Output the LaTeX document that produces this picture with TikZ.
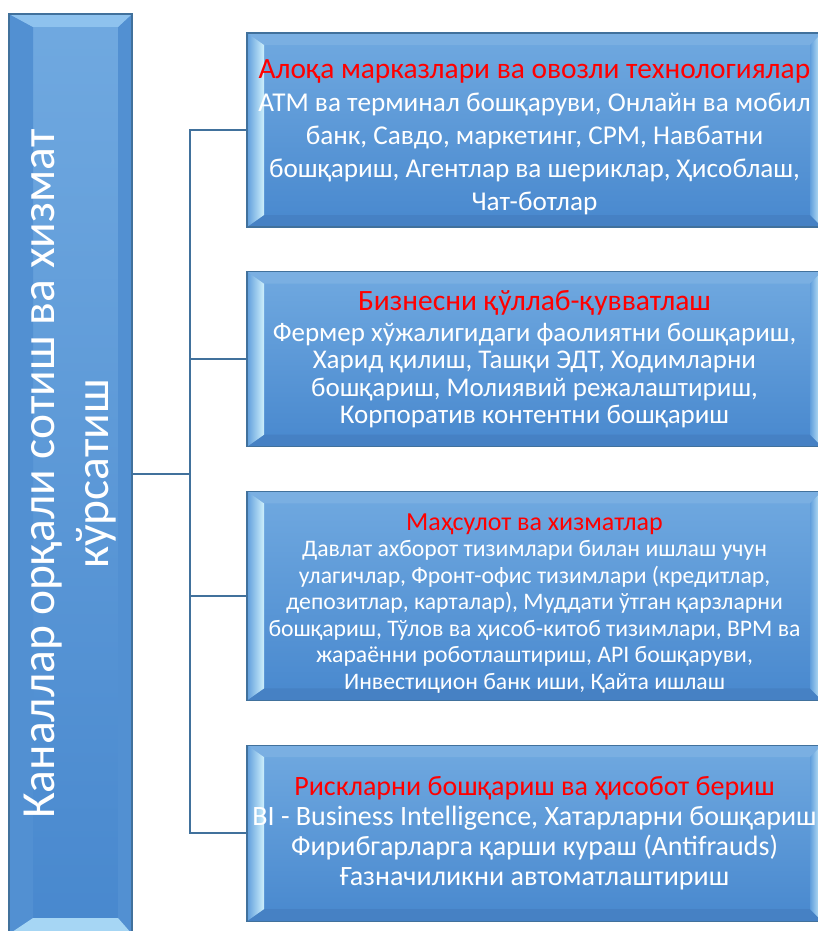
\documentclass[tikz,border=0pt]{standalone}
\usepackage{graphicx}
\usepackage{fontspec}
\setmainfont{Carlito}
\usetikzlibrary{positioning}

\definecolor{boxtop}{RGB}{112,169,224}
\definecolor{boxbot}{RGB}{72,136,206}
\definecolor{edgeblue}{RGB}{65,113,156}
\definecolor{bevlight}{RGB}{206,240,252}
\definecolor{bevtop}{RGB}{122,175,226}
\definecolor{bevbot}{RGB}{70,129,196}
\definecolor{bevside}{RGB}{96,158,220}
\definecolor{sidetop}{RGB}{142,194,238}
\definecolor{sidebot}{RGB}{166,214,244}
\definecolor{sidedark}{RGB}{82,144,210}

\begin{document}
\begin{tikzpicture}[x=1pt,y=-1pt,node distance=43.5pt,
  link/.style={draw=edgeblue,line width=2.2pt},
  side node/.style={rectangle,draw=edgeblue,line width=1.2pt,
    top color=boxtop,bottom color=boxbot,inner sep=0pt,text=white,
    minimum width=123pt,minimum height=920pt,
    font=\fontsize{47.5}{54}\selectfont,
    path picture={
      \coordinate (nw) at (path picture bounding box.north west);
      \coordinate (ne) at (path picture bounding box.north east);
      \coordinate (sw) at (path picture bounding box.south west);
      \coordinate (se) at (path picture bounding box.south east);
      \fill[sidedark] (nw) -- ([shift={(24pt,-13pt)}]nw) -- ([shift={(24pt,16pt)}]sw) -- (sw) -- cycle;
      \fill[sidedark] (ne) -- ([shift={(-14pt,-13pt)}]ne) -- ([shift={(-14pt,16pt)}]se) -- (se) -- cycle;
      \fill[sidetop] (nw) -- (ne) -- ([shift={(-14pt,-13pt)}]ne) -- ([shift={(24pt,-13pt)}]nw) -- cycle;
      \fill[sidebot] (sw) -- (se) -- ([shift={(-14pt,16pt)}]se) -- ([shift={(24pt,16pt)}]sw) -- cycle;
    }},
  group node/.style={rectangle,draw=edgeblue,line width=1.2pt,
    top color=boxtop,bottom color=boxbot,inner sep=0pt,text=white,
    minimum width=575pt,align=center,
    path picture={
      \coordinate (nw) at (path picture bounding box.north west);
      \coordinate (ne) at (path picture bounding box.north east);
      \coordinate (sw) at (path picture bounding box.south west);
      \coordinate (se) at (path picture bounding box.south east);
      \fill[bevtop] (nw) -- (ne) -- ([shift={(-12pt,-12pt)}]ne) -- ([shift={(17pt,-12pt)}]nw) -- cycle;
      \fill[bevbot] (sw) -- (se) -- ([shift={(-12pt,12pt)}]se) -- ([shift={(17pt,12pt)}]sw) -- cycle;
      \shade[left color=bevside,right color=bevlight] (nw) -- ([shift={(17pt,-12pt)}]nw) -- ([shift={(17pt,12pt)}]sw) -- (sw) -- cycle;
      \shade[left color=bevside,right color=bevlight] (ne) -- ([shift={(-12pt,-12pt)}]ne) -- ([shift={(-12pt,12pt)}]se) -- (se) -- cycle;
    }}]

  \useasboundingbox (0,0) rectangle (818,931);

  \node[side node] (0) at (70.5,474)
    {\rotatebox{90}{\parbox{800pt}{\centering Каналлар орқали сотиш ва хизмат\\ кўрсатиш}}};

  \node[group node,minimum height=194pt,font=\fontsize{27.2}{33}\selectfont] (1) at (534.5,130)
    {\rule{0pt}{33pt}{\fontsize{29.4}{33}\selectfont\color{red}Алоқа марказлари ва овозли технологиялар}\\
     АТМ ва терминал бошқаруви, Онлайн ва мобил\\
     банк, Савдо, маркетинг, СРМ, Навбатни\\
     бошқариш, Агентлар ва шериклар, Ҳисоблаш,\\
     Чат-ботлар};
  \node[group node,minimum height=175pt,font=\fontsize{27}{27.5}\selectfont,below=of 1] (2)
    {{\fontsize{29.5}{33}\selectfont\color{red}Бизнесни қўллаб-қувватлаш}\\[3pt]
     Фермер хўжалигидаги фаолиятни бошқариш,\\
     Харид қилиш, Ташқи ЭДТ, Ходимларни\\
     бошқариш, Молиявий режалаштириш,\\
     Корпоратив контентни бошқариш};
  \node[group node,minimum height=209pt,font=\fontsize{23.7}{26.5}\selectfont,below=of 2] (3)
    {\rule{0pt}{31.5pt}{\fontsize{26}{26.5}\selectfont\color{red}Маҳсулот ва хизматлар}\\
     Давлат ахборот тизимлари билан ишлаш учун\\
     улагичлар, Фронт-офис тизимлари (кредитлар,\\
     депозитлар, карталар), Муддати ўтган қарзларни\\
     бошқариш, Тўлов ва ҳисоб-китоб тизимлари, ВРМ ва\\
     жараённи роботлаштириш, API бошқаруви,\\
     Инвестицион банк иши, Қайта ишлаш};
  \node[group node,minimum height=176pt,font=\fontsize{28}{30}\selectfont,below=of 3] (4)
    {\textcolor{red}{Рискларни бошқариш ва ҳисобот бериш}\\
     BI - Business Intelligence, Хатарларни бошқариш\\
     Фирибгарларга қарши кураш (Antifrauds)\\
     Ғазначиликни автоматлаштириш};

  \coordinate[right=57pt of 0] (t);
  \draw[link] (0) -- (t);
  \foreach \n in {1,...,4}
    \draw[link] (t) |- (\n);
\end{tikzpicture}
\end{document}
